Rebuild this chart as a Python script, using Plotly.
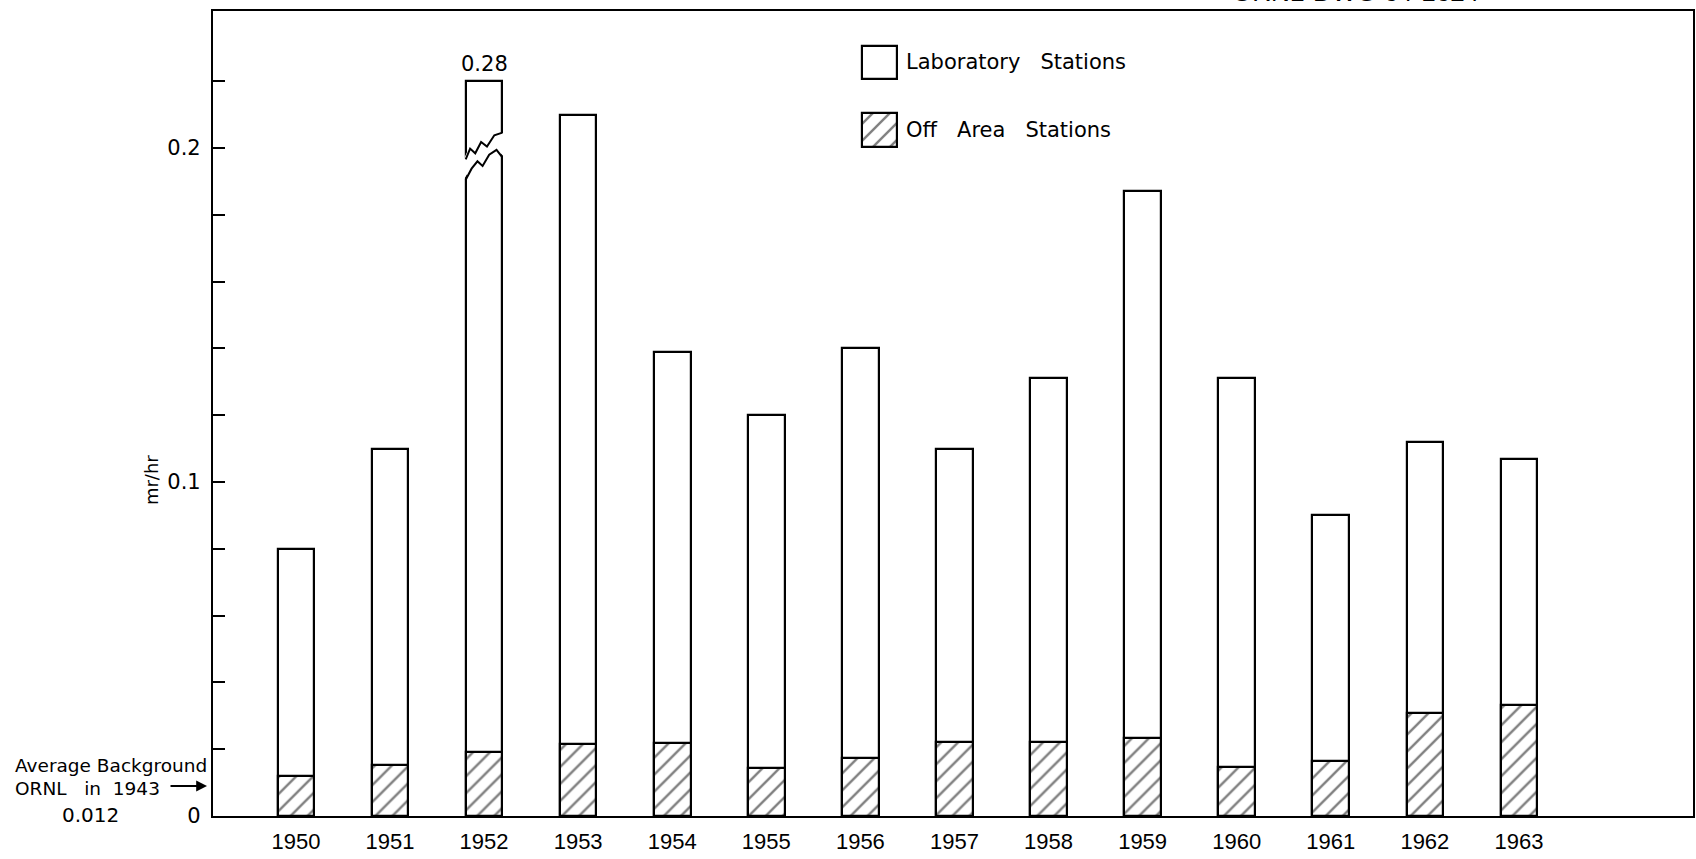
import plotly.graph_objects as go

# ---------------- data ----------------
years = ["1950", "1951", "1952", "1953", "1954", "1955", "1956",
         "1957", "1958", "1959", "1960", "1961", "1962", "1963"]
laboratory = [0.080, 0.110, 0.28, 0.210, 0.139, 0.120, 0.140,
              0.110, 0.131, 0.187, 0.131, 0.090, 0.112, 0.107]
off_area = [0.0120, 0.0154, 0.0193, 0.0216, 0.0219, 0.0145, 0.0175,
            0.0223, 0.0223, 0.0233, 0.0147, 0.0165, 0.0309, 0.0332]
y_tick_vals = [0, 0.02, 0.04, 0.06, 0.08, 0.10, 0.12, 0.14, 0.16, 0.18, 0.20, 0.22]
y_tick_text = ["0", "", "", "", "", "0.1", "", "", "", "", "0.2", ""]
background_1943 = 0.012
BREAK_TOP = 0.22   # broken bars are drawn up to this level

# ---------------- geometry helpers ----------------
W, H = 1696, 859
ML, MR, MT, MB = 213, 1, 11, 43
PW, PH = W - ML - MR, H - MT - MB


def px(X):
    return (X - ML) / PW


def py(Y):
    return (H - MB - Y) / PH


idx = list(range(len(years)))
lab_display = [min(v, BREAK_TOP) for v in laboratory]
BAR_W = 0.39

TXT = "DejaVu Sans"
NUM = "Liberation Sans"
HATCH = dict(shape="/", fgcolor="black", bgcolor="white", size=12, solidity=0.2)

fig = go.Figure()
fig.add_trace(go.Bar(
    x=idx, y=lab_display, width=BAR_W, name="Laboratory Stations",
    marker=dict(color="white", line=dict(color="black", width=2.2)),
    customdata=laboratory, hovertemplate="%{customdata}<extra>Laboratory</extra>",
    showlegend=False))
fig.add_trace(go.Bar(
    x=idx, y=off_area, width=BAR_W, name="Off Area Stations",
    marker=dict(color="white", line=dict(color="black", width=2.2), pattern=HATCH),
    showlegend=False))

# ---------------- legend swatches on small overlay axes ----------------
def box_domains(x0, x1, y0, y1, pad=0.08):
    w, h = x1 - x0, y1 - y0
    dx = [px(x0 - pad * w), px(x1 + pad * w)]
    dy = [py(y1 + pad * h), py(y0 - pad * h)]
    return dx, dy, [-0.5 - pad, 0.5 + pad], [-pad, 1 + pad]


for k, (ys, pat) in enumerate([((45.7, 79.3), None), ((112.7, 147.3), HATCH)], start=2):
    dx, dy, rx, ry = box_domains(862.7, 897.7, ys[0], ys[1])
    mk = dict(color="white", line=dict(color="black", width=2.2))
    if pat:
        mk["pattern"] = pat
    fig.add_trace(go.Bar(
        x=[0], y=[1], width=1, xaxis=f"x{k}", yaxis=f"y{k}", showlegend=False,
        hoverinfo="skip", marker=mk))
    fig.update_layout(**{
        f"xaxis{k}": dict(domain=dx, range=rx, visible=False, anchor=f"y{k}", fixedrange=True),
        f"yaxis{k}": dict(domain=dy, range=ry, visible=False, anchor=f"x{k}", fixedrange=True),
    })

# ---------------- axis break on the 1952 bar ----------------
bi = laboratory.index(max(laboratory))
upper = [(0.00, 0.1966), (0.12, 0.1998), (0.26, 0.1984), (0.42, 0.2018),
         (0.58, 0.2004), (0.78, 0.2038), (1.00, 0.2046)]
lower = [(0.00, 0.1905), (0.16, 0.1938), (0.32, 0.1960), (0.46, 0.1946),
         (0.64, 0.1980), (0.84, 0.1994), (1.00, 0.1972)]


def xu(u, ext=0.0):
    return bi - BAR_W / 2 - ext + u * (BAR_W + 2 * ext)


poly = [(xu(u, 0.02), v) for u, v in upper] + [(xu(u, 0.02), v) for u, v in reversed(lower)]
fig.add_shape(type="path", xref="x", yref="y", line=dict(width=0), fillcolor="white",
              path="M " + " L ".join(f"{a},{b}" for a, b in poly) + " Z")
for curve in (upper, lower):
    fig.add_shape(type="path", xref="x", yref="y", line=dict(color="black", width=2),
                  path="M " + " L ".join(f"{xu(u)},{v}" for u, v in curve))

# ---------------- annotations ----------------
def note(text, X, Y, xa="left", size=19, family=TXT, **kw):
    d = dict(x=px(X), y=py(Y), xref="paper", yref="paper", xanchor=xa,
             yanchor="middle", text=text, showarrow=False,
             font=dict(family=family, size=size, color="black"))
    d.update(kw)
    return d


S3 = "\u00a0\u00a0 "
ann = [
    dict(x=bi, y=BREAK_TOP, xref="x", yref="y", xanchor="center", yanchor="bottom",
         yshift=3, text=f"{max(laboratory):.2f}", showarrow=False,
         font=dict(family=TXT, size=21, color="black")),
    note("Laboratory" + S3 + "Stations", 905, 62, size=21),
    note("Off" + S3 + "Area" + S3 + "Stations", 905, 130, size=21),
    note("mr/hr", 151, 480, xa="center", size=18, textangle=-90),
    note("Average Background", 13, 765, size=18.5),
    note("ORNL\u00a0\u00a0 in\u00a0 1943", 13, 788, size=18.5),
    dict(x=px(207), y=py(786), xref="paper", yref="paper", text="",
         showarrow=True, ax=-38, ay=0, arrowhead=2, arrowsize=1.2,
         arrowwidth=1.8, arrowcolor="black"),
    note(f"{background_1943:.3f}", 90, 815, xa="center", size=20),
    dict(x=px(1357), y=py(9), xref="paper", yref="paper", xanchor="center",
         yanchor="bottom", text="ORNL-DWG 64-1624", showarrow=False,
         font=dict(family=NUM, size=26, color="black")),
]

fig.update_layout(
    width=W, height=H,
    margin=dict(l=ML, r=MR, t=MT, b=MB),
    paper_bgcolor="white", plot_bgcolor="white",
    barmode="overlay", bargap=0,
    showlegend=False,
    annotations=ann,
    xaxis=dict(range=[-0.881, 14.85], tickvals=idx, ticktext=years,
               showline=True, mirror=True, linecolor="black", linewidth=2.2,
               showgrid=False, zeroline=False, ticks="",
               tickfont=dict(family=NUM, size=22, color="black"),
               ticklabelstandoff=4),
    yaxis=dict(range=[0, 0.241], tickvals=y_tick_vals, ticktext=y_tick_text,
               showline=True, mirror=True, linecolor="black", linewidth=2.2,
               showgrid=False, zeroline=False, ticks="inside", ticklen=12,
               tickwidth=2, tickcolor="black",
               tickfont=dict(family=TXT, size=21, color="black"),
               ticklabelstandoff=6),
)

fig.write_html(
    "out.html",
    config={"displayModeBar": False},
    post_script="document.body.style.margin='0px';document.body.style.overflow='hidden';",
)
